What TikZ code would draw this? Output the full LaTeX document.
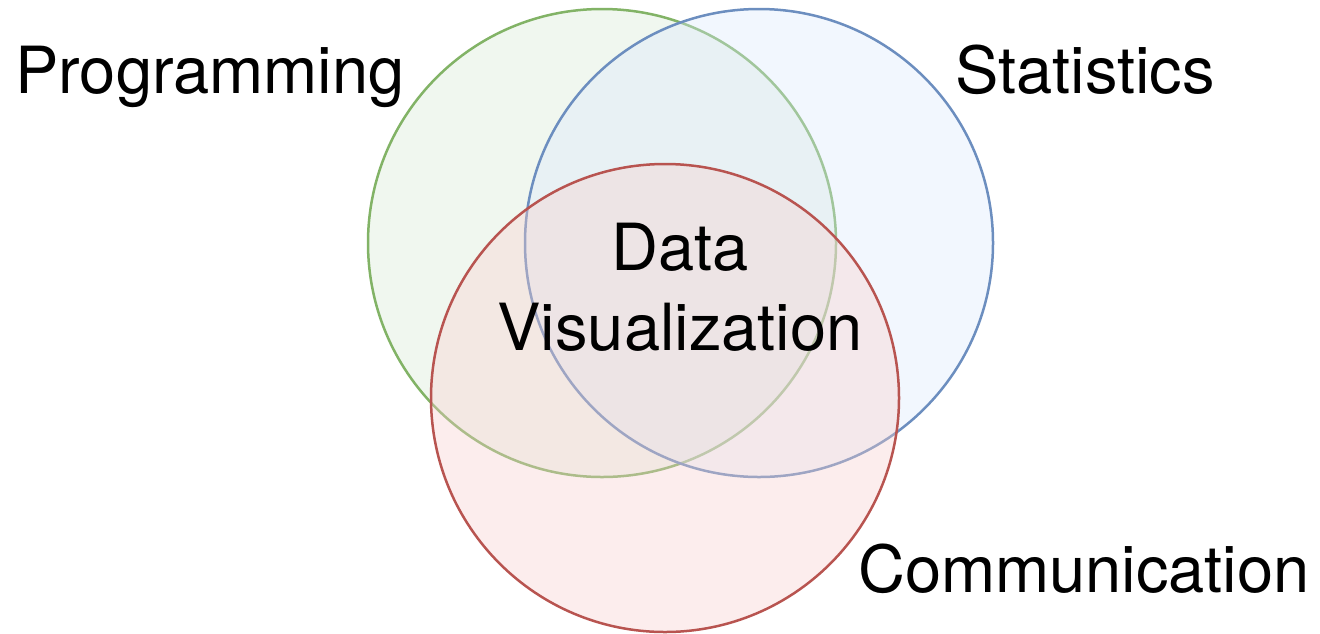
\documentclass[tikz,border=0pt]{standalone}
\usepackage{fontspec}
\setmainfont{TeX Gyre Heros}
\definecolor{progline}{HTML}{82B366}
\definecolor{progfill}{HTML}{D5E8D4}
\definecolor{statline}{HTML}{6C8EBF}
\definecolor{statfill}{HTML}{DAE8FC}
\definecolor{commline}{HTML}{B85450}
\definecolor{commfill}{HTML}{F8CECC}
\begin{document}
\begin{tikzpicture}[x=1pt,y=-1pt,
  setcircle/.style={line width=2.5pt},
  label/.style={inner sep=0pt,font=\fontsize{65}{80}\selectfont}]
\useasboundingbox (0,0) rectangle (1320,633);
% three overlapping sets, later ones tinting the earlier outlines
\fill[progfill,fill opacity=0.36] (602,243) circle (234pt);
\draw[setcircle,progline] (602,243) circle (234pt);
\fill[statfill,fill opacity=0.36] (759,243) circle (234pt);
\draw[setcircle,statline] (759,243) circle (234pt);
\fill[commfill,fill opacity=0.36] (665,398) circle (234pt);
\draw[setcircle,commline] (665,398) circle (234pt);
% set names
\node[label,anchor=base west] (prog) at (15,93) {Programming};
\node[label,anchor=base west] (stat) at (955,93) {Statistics};
\node[label,anchor=base west] (comm) at (858,592) {Communication};
% the base anchor sits on the last line's baseline
\node[label,anchor=base,align=center] (dataviz) at (680,350) {Data\\Visualization};
\end{tikzpicture}
\end{document}
